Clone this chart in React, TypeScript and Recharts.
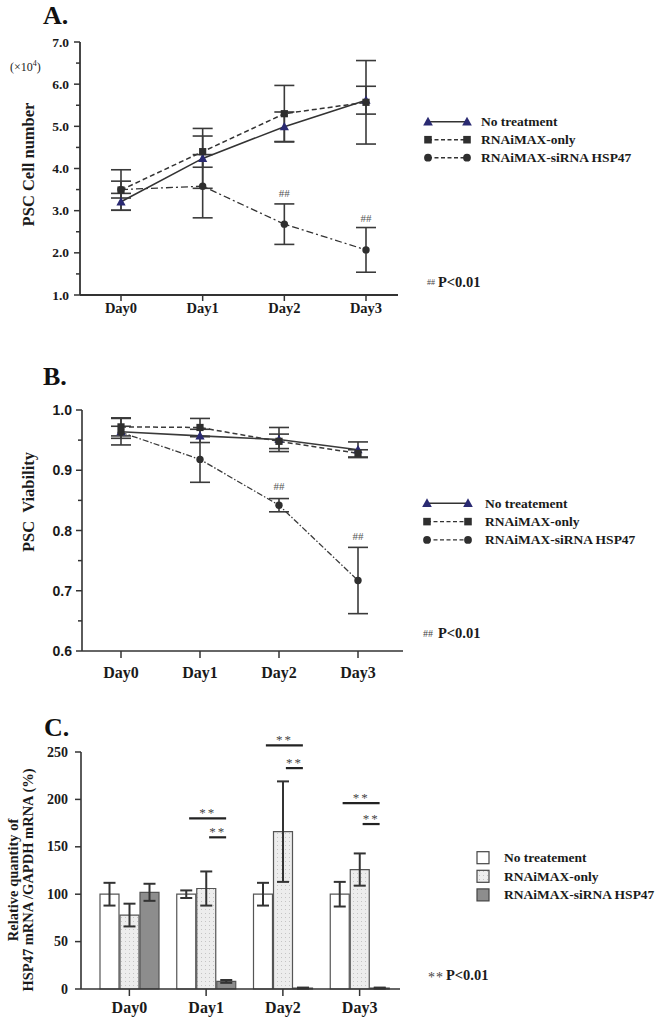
import React from 'react';
import {
  LineChart,
  Line,
  ComposedChart,
  Bar,
  XAxis,
  YAxis,
  ErrorBar,
  ReferenceDot,
  Legend,
} from 'recharts';

const days = ['Day0', 'Day1', 'Day2', 'Day3'];
const namesA = ['No treatment', 'RNAiMAX-only', 'RNAiMAX-siRNA HSP47'];
const namesBC = ['No treatement', 'RNAiMAX-only', 'RNAiMAX-siRNA HSP47'];

// A. PSC cell number (x10^4)
const cellNone = [3.21, 4.24, 4.99, 5.62];
const cellNoneSd = [0.2, 0.71, 0.35, 0.33];
const cellOnly = [3.49, 4.4, 5.3, 5.57];
const cellOnlySd = [0.48, 0.37, 0.67, 0.99];
const cellSi = [3.5, 3.58, 2.68, 2.07];
const cellSiSd = [0.2, 0.75, 0.48, 0.53];
const cellHash = [null, null, 3.42, 2.82];
const cellTicks = [1, 1.5, 2, 2.5, 3, 3.5, 4, 4.5, 5, 5.5, 6, 6.5, 7];

// B. PSC viability
const viaNone = [0.964, 0.957, 0.951, 0.934];
const viaNoneSd = [0.022, 0.011, 0.02, 0.013];
const viaOnly = [0.972, 0.971, 0.948, 0.928];
const viaOnlySd = [0.015, 0.015, 0.012, 0.006];
const viaSi = [0.963, 0.918, 0.842, 0.717];
const viaSiSd = [0.01, 0.038, 0.011, 0.055];
const viaHash = [null, null, 0.873, 0.79];
const viaTicks = [0.6, 0.65, 0.7, 0.75, 0.8, 0.85, 0.9, 0.95, 1.0];

// C. HSP47 mRNA / GAPDH mRNA (%)
const mrnaNone = [100, 100, 100, 100];
const mrnaNoneSd = [12, 4, 12, 13];
const mrnaOnly = [78, 106, 166, 126];
const mrnaOnlySd = [12, 18, 53, 17];
const mrnaSi = [102, 8, 1, 1];
const mrnaSiSd = [9, 1.5, 0.5, 0.5];
const sigAll = [null, 180, 257, 196];
const sigOnly = [null, 160, 233, 174];
const mrnaTicks = [0, 50, 100, 150, 200, 250];

const cellData = days.map((day, i) => ({
  day,
  none: cellNone[i], noneSd: cellNoneSd[i],
  only: cellOnly[i], onlySd: cellOnlySd[i],
  si: cellSi[i], siSd: cellSiSd[i],
}));
const viaData = days.map((day, i) => ({
  day,
  none: viaNone[i], noneSd: viaNoneSd[i],
  only: viaOnly[i], onlySd: viaOnlySd[i],
  si: viaSi[i], siSd: viaSiSd[i],
}));
const mrnaData = days.map((day, i) => ({
  day,
  none: mrnaNone[i], noneSd: mrnaNoneSd[i],
  only: mrnaOnly[i], onlySd: mrnaOnlySd[i],
  si: mrnaSi[i], siSd: mrnaSiSd[i],
}));

const SERIF = '"Liberation Serif", "Times New Roman", serif';
const SANS = '"Liberation Sans", Arial, sans-serif';
const ink = '#333';
const navy = '#2a2a72';

type Kind = 'tri' | 'sq' | 'dot';
const lineStyles: { key: string; kind: Kind; dash?: string; w: number }[] = [
  { key: 'none', kind: 'tri', w: 1.6 },
  { key: 'only', kind: 'sq', dash: '5 3', w: 1.5 },
  { key: 'si', kind: 'dot', dash: '7 3 2 3', w: 1.3 },
];

function marker(kind: Kind, cx: number, cy: number, key: string, s = 1) {
  if (cx == null || cy == null) return <g key={key} />;
  if (kind === 'tri')
    return (
      <path
        key={key}
        d={`M${cx},${cy - 4.8 * s}L${cx + 4.6 * s},${cy + 3.6 * s}L${cx - 4.6 * s},${cy + 3.6 * s}Z`}
        fill={navy}
      />
    );
  if (kind === 'sq')
    return <rect key={key} x={cx - 3.6 * s} y={cy - 3.6 * s} width={7.2 * s} height={7.2 * s} fill="#2f2f2f" />;
  return <circle key={key} cx={cx} cy={cy} r={3.7 * s} fill="#2f2f2f" />;
}

// y ticks: label on major ticks, short mark on minor ones
function yTick(isMajor: (v: number) => boolean, fmt: (v: number) => string, font: string, size: number, gap: number) {
  return (p: any) => {
    const v = p.payload.value;
    const major = isMajor(v);
    return (
      <g>
        <line x1={p.x - (major ? 6 : 4)} x2={p.x} y1={p.y} y2={p.y} stroke={ink} strokeWidth={1.5} />
        {major && (
          <text x={p.x - gap} y={p.y} textAnchor="end" dominantBaseline="central" fontFamily={font}
            fontWeight="bold" fontSize={size} fill="#1a1a1a">
            {fmt(v)}
          </text>
        )}
      </g>
    );
  };
}

function LineKey({ names, x0, x1, tx, y0, gap }: { names: string[]; x0: number; x1: number; tx: number; y0: number; gap: number }) {
  return (
    <svg width={236} height={62} style={{ display: 'block' }}>
      {names.map((name, i) => {
        const s = lineStyles[i];
        const y = y0 + i * gap;
        return (
          <g key={name}>
            <line x1={x0} x2={x1} y1={y} y2={y} stroke={ink} strokeWidth={1.4} strokeDasharray={s.dash ? '4 2.5' : undefined} />
            {marker(s.kind, x0, y, 'a', 1.05)}
            {marker(s.kind, x1, y, 'b', 1.05)}
            <text x={tx} y={y} dominantBaseline="central" fontFamily={SERIF} fontWeight="bold" fontSize={13.5} fill="#1a1a1a">
              {name}
            </text>
          </g>
        );
      })}
    </svg>
  );
}

const barFills = ['#ffffff', 'url(#dotFill)', '#8d8d8d'];

function BarKey({ names }: { names: string[] }) {
  return (
    <svg width={190} height={62} style={{ display: 'block' }}>
      {names.map((name, i) => {
        const y = 11.7 + i * 18.6;
        return (
          <g key={name}>
            <rect x={7} y={y - 6} width={12} height={12} fill={barFills[i]} stroke="#444" strokeWidth={1.2} />
            <text x={34} y={y} dominantBaseline="central" fontFamily={SERIF} fontWeight="bold" fontSize={13.5} fill="#1a1a1a">
              {name}
            </text>
          </g>
        );
      })}
    </svg>
  );
}

const hashLabel = { value: '##', position: 'center' as const, fontFamily: SERIF, fontSize: 11, fill: '#555' };

function SigMark({ cx, cy, from, to }: { cx: number; cy: number; from: number; to: number }) {
  return (
    <g>
      <line x1={cx + from} x2={cx + to} y1={cy} y2={cy} stroke="#222" strokeWidth={2.2} />
      <text x={cx + (from + to) / 2} y={cy - 1} textAnchor="middle" fontFamily={SERIF} fontSize={13}
        letterSpacing={2} fill="#444">
        **
      </text>
    </g>
  );
}

const xTick = (size: number) => ({ fontFamily: SERIF, fontWeight: 'bold', fontSize: size, fill: '#1a1a1a' });

export default function App() {
  return (
    <div style={{ position: 'absolute', left: 0, top: 0, width: 656, height: 1019, overflow: 'hidden', background: '#fff' }}>
      {/* A */}
      <div style={{ position: 'absolute', left: 0, top: 0 }}>
        <LineChart width={656} height={330} data={cellData} margin={{ top: 42, right: 258, bottom: 5, left: 30 }}>
          <XAxis dataKey="day" padding={{ left: 41, right: 32 }} axisLine={{ stroke: ink, strokeWidth: 1.8 }}
            tickLine={{ stroke: ink, strokeWidth: 1.5 }} tickSize={6} tickMargin={2} tick={xTick(14.5)} />
          <YAxis width={50} domain={[1, 7]} ticks={cellTicks} interval={0} tickSize={0} tickMargin={0} tickLine={false}
            axisLine={{ stroke: ink, strokeWidth: 1.8 }}
            tick={yTick((v) => Number.isInteger(v), (v) => v.toFixed(1), SERIF, 13.5, 11)} />
          {lineStyles.map((s) => (
            <Line key={s.key} dataKey={s.key} stroke={ink} strokeWidth={s.w} strokeDasharray={s.dash}
              dot={(p: any) => marker(s.kind, p.cx, p.cy, `${s.key}${p.index}`)} activeDot={false}
              isAnimationActive={false}>
              <ErrorBar dataKey={`${s.key}Sd`} width={10} stroke="#3a3a3a" strokeWidth={1.6} direction="y" />
            </Line>
          ))}
          {days.map((d, i) =>
            cellHash[i] == null ? null : (
              <ReferenceDot key={d} x={d} y={cellHash[i] as number} r={0} stroke="none" fill="none" label={hashLabel} />
            ),
          )}
          <Legend layout="vertical" align="center" verticalAlign="middle" wrapperStyle={{ left: 420, top: 110, width: 236 }}
            content={() => <LineKey names={namesA} x0={8} x1={47} tx={61} y0={11.7} gap={18} />} />
        </LineChart>
      </div>

      {/* B */}
      <div style={{ position: 'absolute', left: 0, top: 360 }}>
        <LineChart width={656} height={330} data={viaData} margin={{ top: 50, right: 253, bottom: 9, left: 32 }}>
          <XAxis dataKey="day" padding={{ left: 39, right: 45 }} axisLine={{ stroke: ink, strokeWidth: 1.6 }}
            tickLine={{ stroke: ink, strokeWidth: 1.5 }} tickSize={7} tickMargin={9} tick={xTick(16)} />
          <YAxis width={50} domain={[0.6, 1.0]} ticks={viaTicks} interval={0} tickSize={0} tickMargin={0} tickLine={false}
            axisLine={{ stroke: ink, strokeWidth: 1.6 }}
            tick={yTick((v) => Math.round(v * 100) % 10 === 0, (v) => v.toFixed(1), SANS, 14, 10)} />
          {lineStyles.map((s) => (
            <Line key={s.key} dataKey={s.key} stroke="#3a3a3a" strokeWidth={s.w}
              strokeDasharray={s.key === 'si' ? '6 2 1.5 2' : s.dash}
              dot={(p: any) => marker(s.kind, p.cx, p.cy, `${s.key}${p.index}`)} activeDot={false}
              isAnimationActive={false}>
              <ErrorBar dataKey={`${s.key}Sd`} width={10} stroke="#3a3a3a" strokeWidth={1.6} direction="y" />
            </Line>
          ))}
          {days.map((d, i) =>
            viaHash[i] == null ? null : (
              <ReferenceDot key={d} x={d} y={viaHash[i] as number} r={0} stroke="none" fill="none" label={hashLabel} />
            ),
          )}
          <Legend layout="vertical" align="center" verticalAlign="middle" wrapperStyle={{ left: 420, top: 132, width: 236 }}
            content={() => <LineKey names={namesBC} x0={7} x1={48} tx={65} y0={11.3} gap={18.3} />} />
        </LineChart>
      </div>

      {/* C */}
      <div style={{ position: 'absolute', left: 0, top: 700 }}>
        <ComposedChart width={656} height={319} data={mrnaData} margin={{ top: 52, right: 256, bottom: 1, left: 31 }}
          barSize={19} barGap={1}>
          <defs>
            <pattern id="dotFill" width="4" height="4" patternUnits="userSpaceOnUse">
              <rect width="4" height="4" fill="#ededed" />
              <rect x="1" y="1" width="1" height="1" fill="#c4c4c4" />
            </pattern>
          </defs>
          <XAxis dataKey="day" height={29} padding={{ left: 10, right: 2 }} axisLine={{ stroke: ink, strokeWidth: 1.6 }}
            tickLine={{ stroke: ink, strokeWidth: 1.5 }} tickSize={7} tickMargin={6} tick={xTick(16)} />
          <YAxis width={50} domain={[0, 250]} ticks={mrnaTicks} interval={0} tickSize={0} tickMargin={0} tickLine={false}
            axisLine={{ stroke: ink, strokeWidth: 1.6 }}
            tick={yTick(() => true, (v) => String(v), SERIF, 14, 13)} />
          {['none', 'only', 'si'].map((k, i) => (
            <Bar key={k} dataKey={k} fill={barFills[i]} stroke="#555" strokeWidth={1.2} isAnimationActive={false}>
              <ErrorBar dataKey={`${k}Sd`} width={6} stroke="#333" strokeWidth={2} direction="y" />
            </Bar>
          ))}
          {days.map((d, i) =>
            sigAll[i] == null ? null : (
              <ReferenceDot key={`a${d}`} x={d} y={sigAll[i] as number} r={1} ifOverflow="visible"
                shape={(p: any) => <SigMark cx={p.cx} cy={p.cy} from={-17} to={20} />} />
            ),
          )}
          {days.map((d, i) =>
            sigOnly[i] == null ? null : (
              <ReferenceDot key={`o${d}`} x={d} y={sigOnly[i] as number} r={1} ifOverflow="visible"
                shape={(p: any) => <SigMark cx={p.cx} cy={p.cy} from={3} to={20} />} />
            ),
          )}
          <Legend layout="vertical" align="center" verticalAlign="middle" wrapperStyle={{ left: 470, top: 146, width: 190 }}
            content={() => <BarKey names={namesBC} />} />
        </ComposedChart>
      </div>

      {/* panel letters, axis titles and notes */}
      <svg width={656} height={1019} style={{ position: 'absolute', left: 0, top: 0, pointerEvents: 'none' }}>
        <g fontFamily={SERIF} fontWeight="bold" fontSize={26} fill="#111">
          <text x={43} y={24}>A.</text>
          <text x={43} y={385}>B.</text>
          <text x={44} y={736}>C.</text>
        </g>
        <text x={10} y={71} fontFamily={SERIF} fontSize={12} fill="#222">
          (×10<tspan dy={-5} fontSize={8}>4</tspan><tspan dy={5}>)</tspan>
        </text>
        <g fontFamily={SERIF} fontWeight="bold" fill="#1a1a1a" textAnchor="middle" dominantBaseline="central">
          <text x={28} y={164.5} fontSize={16.5} transform="rotate(-90 28 164.5)">PSC Cell number</text>
          <text x={28} y={502} fontSize={16.5} transform="rotate(-90 28 502)" style={{ whiteSpace: 'pre' }}>PSC  Viability</text>
          <text x={13} y={880} fontSize={14.5} transform="rotate(-90 13 880)">Relative quantity of</text>
          <text x={28} y={880} fontSize={14.5} transform="rotate(-90 28 880)">HSP47 mRNA /GAPDH mRNA (%)</text>
        </g>
        <g fontFamily={SERIF} fill="#1a1a1a">
          <text x={427} y={285} fontSize={8} fill="#444">##</text>
          <text x={438} y={286.7} fontSize={14.5} fontWeight="bold">P&lt;0.01</text>
          <text x={423} y={637} fontSize={10} fill="#444">##</text>
          <text x={438} y={638.3} fontSize={14.5} fontWeight="bold">P&lt;0.01</text>
          <text x={428} y={982} fontSize={14} fill="#444" letterSpacing={1}>**</text>
          <text x={446} y={980} fontSize={14.5} fontWeight="bold">P&lt;0.01</text>
        </g>
      </svg>
    </div>
  );
}
